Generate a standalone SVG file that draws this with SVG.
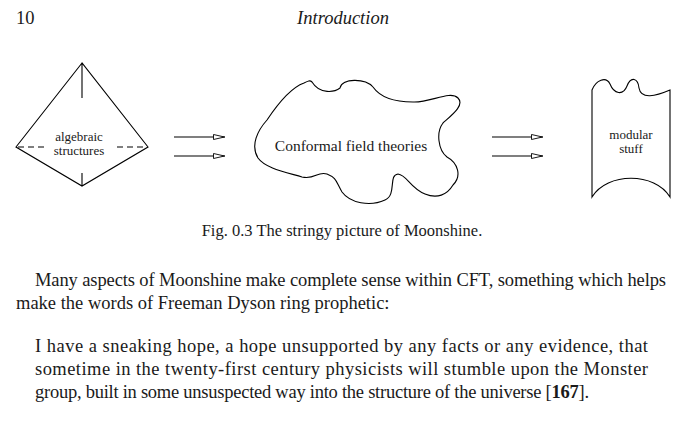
<svg xmlns="http://www.w3.org/2000/svg" width="682" height="421" viewBox="0 0 682 421">
<style>
.s{fill:none;stroke:#000;stroke-width:1.1}
text{font-family:"Liberation Serif",serif;fill:#1a1a1a}
</style>
<defs><marker id="a" viewBox="0 0 12 6" refX="12" refY="3" markerWidth="12" markerHeight="6" markerUnits="userSpaceOnUse" orient="auto"><path d="M0.5,0.5 L11.5,3 L0.5,5.5 Z" fill="#fff" stroke="#000" stroke-width="0.9"/></marker></defs>
<rect width="682" height="421" fill="#fff"/>
<g font-family="Liberation Serif, serif" font-size="18.5">
<text x="16" y="24">10</text>
<text x="343" y="24" font-style="italic" text-anchor="middle">Introduction</text>
</g>
<g id="algebraic">
<path class="s" d="M82,63 L16,147 L82,186 L148,147 Z M82,63 V98 M82,173 V186"/>
<path class="s" stroke-dasharray="6,4" d="M18,147 H48 M117,147 H146"/>
<text x="79" y="141" font-family="Liberation Serif, serif" font-size="13" text-anchor="middle">algebraic</text>
<text x="79" y="155" font-family="Liberation Serif, serif" font-size="13" text-anchor="middle">structures</text>
</g>
<g id="cft">
<path class="s" d="M312,82 C320,95 335,92 340,88 C342,78 365,78 373,87 C380,97 395,102 413,102 C430,103 450,90 458,98 C465,105 452,115 443,123 C436,132 438,150 447,157 C458,163 462,176 453,185 C447,195 437,199 425,194 C410,188 407,175 398,174 C388,175 397,195 385,200 C370,207 350,203 342,192 C336,182 337,178 327,174 C317,171 315,180 302,177 C285,172 265,168 258,158 C250,145 258,130 267,120 C277,105 290,88 304,83 C308,81 310,80 312,82 Z"/>
<text x="351" y="151" font-family="Liberation Serif, serif" font-size="15.5" text-anchor="middle">Conformal field theories</text>
</g>
<g id="modular">
<path class="s" d="M592,197 V90 C596,80 606,76 610,84 C614,94 623,96 627,86 C631,76 638,78 639,88 C641,100 656,96 670,90 V197 C655,172 607,172 592,197 Z"/>
<text x="631" y="139" font-family="Liberation Serif, serif" font-size="13" text-anchor="middle">modular</text>
<text x="631" y="153" font-family="Liberation Serif, serif" font-size="13" text-anchor="middle">stuff</text>
</g>
<g id="connectors">
<path class="s" marker-end="url(#a)" d="M174,137 H225"/>
<path class="s" marker-end="url(#a)" d="M174,156 H225"/>
<path class="s" marker-end="url(#a)" d="M492,137 H543"/>
<path class="s" marker-end="url(#a)" d="M492,156 H543"/>
</g>
<text x="342" y="236" text-anchor="middle" font-family="Liberation Serif, serif" font-size="16.5">Fig. 0.3  The stringy picture of Moonshine.</text>
<g font-family="Liberation Serif, serif" font-size="18.5">
<text x="35" y="286" textLength="631" lengthAdjust="spacing">Many aspects of Moonshine make complete sense within CFT, something which helps</text>
<text x="16" y="309">make the words of Freeman Dyson ring prophetic:</text>
<text x="35" y="352" textLength="613" lengthAdjust="spacing">I have a sneaking hope, a hope unsupported by any facts or any evidence, that</text>
<text x="35" y="375" textLength="613" lengthAdjust="spacing">sometime in the twenty-first century physicists will stumble upon the Monster</text>
<text x="35" y="398" textLength="554" lengthAdjust="spacing">group, built in some unsuspected way into the structure of the universe [<tspan font-weight="bold">167</tspan>].</text>
</g>
</svg>
